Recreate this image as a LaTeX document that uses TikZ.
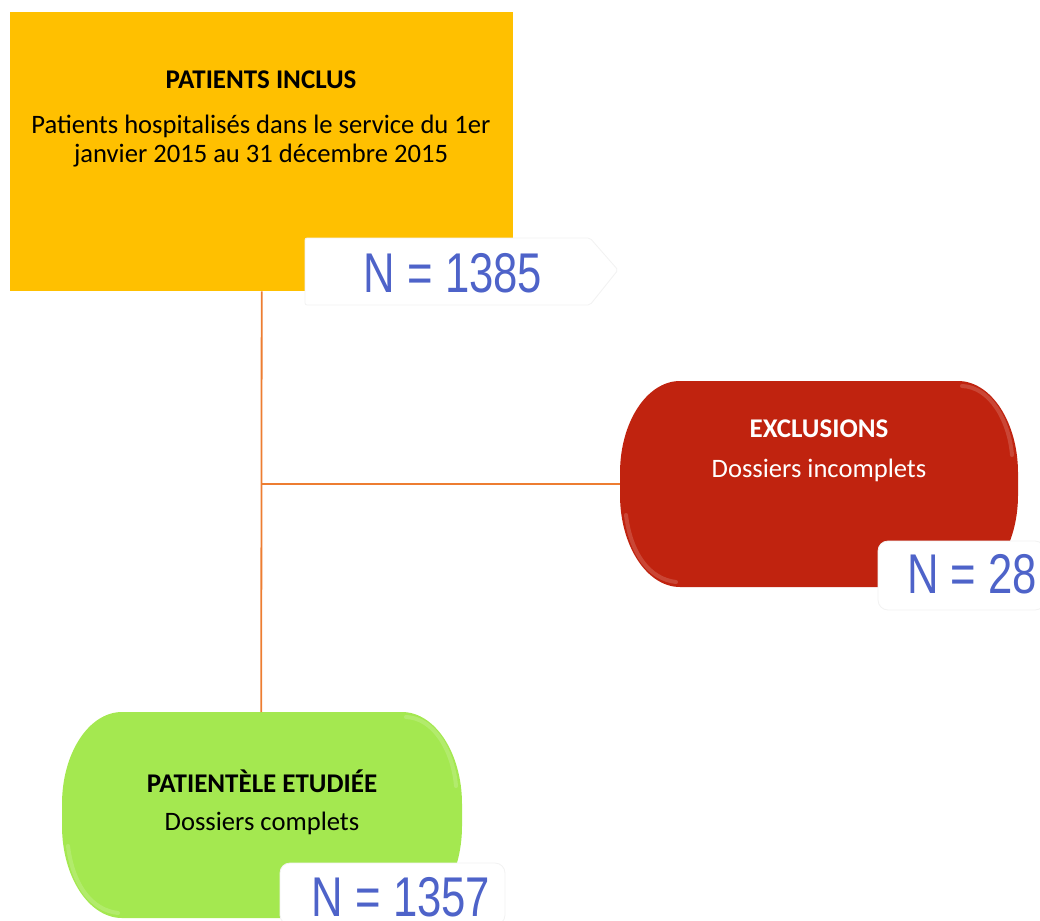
\documentclass[tikz,border=0pt]{standalone}
\usepackage{fontspec}
\setmainfont{Carlito}
\newfontfamily\numfont[FakeStretch=0.78]{Liberation Sans}
\definecolor{yel}{RGB}{255,192,0}
\definecolor{redbox}{RGB}{192,35,15}
\definecolor{greenbox}{RGB}{164,232,80}
\definecolor{lineor}{RGB}{237,125,49}
\definecolor{numblue}{RGB}{78,99,201}
\begin{document}
\begin{tikzpicture}[x=1pt,y=-1pt]
\useasboundingbox (0,0) rectangle (1040,920);
\tikzset{
  connector/.style={draw=lineor, line width=1.8pt},
  anchorbox/.style={inner sep=0, minimum width=398, minimum height=206},
  numbox/.style={fill=white, draw=black!5, line width=0.8pt},
  numtext/.style={font=\numfont\fontsize{56}{60}\selectfont, text=numblue, inner sep=0, anchor=base},
  titletext/.style={font=\bfseries\fontsize{27}{30}\selectfont, inner sep=0},
  bodytext/.style={font=\fontsize{26.6}{29}\selectfont, align=center, inner sep=0},
  glow/.style={white, opacity=0.16, line width=4pt, line cap=round}
}
% shapes (invisible anchor nodes + drawn outlines)
\node[fill=yel, minimum width=503, minimum height=279, inner sep=0, anchor=north west] (inc) at (10,12) {};
\node[anchorbox, anchor=north west] (exc) at (620,381) {};
\node[anchorbox, anchor=north west] (stud) at (62,712) {};
\fill[redbox] (680,381) -- (958,381) .. controls (991.1,381) and (1018,422.2) .. (1018,473) -- (1018,495) .. controls (1018,545.8) and (991.1,587) .. (958,587) -- (680,587) .. controls (646.9,587) and (620,545.8) .. (620,495) -- (620,473) .. controls (620,422.2) and (646.9,381) .. cycle;
\fill[greenbox] (122,712) -- (402,712) .. controls (435.1,712) and (462,753.2) .. (462,804) -- (462,826) .. controls (462,876.8) and (435.1,918) .. (402,918) -- (122,918) .. controls (88.9,918) and (62,876.8) .. (62,826) -- (62,804) .. controls (62,753.2) and (88.9,712) .. cycle;
% bevel highlights
\draw[glow] (962,386) .. controls (990,387) and (1009,420) .. (1012,455);
\draw[glow] (626,515) .. controls (631,555) and (650,579) .. (676,582);
\draw[glow] (406,717) .. controls (434,718) and (453,751) .. (456,786);
\draw[glow] (68,846) .. controls (73,886) and (92,910) .. (118,913);
% connectors
\coordinate (j) at (inc.south |- exc.west);
\draw[connector] (inc.south) -- (stud.north);
\draw[connector] (j) -- (exc.west);
% number boxes
\draw[numbox, rounded corners=2pt] (305,238) -- (590,238) -- (618,270) -- (590,305) -- (305,305) -- cycle;
\draw[numbox, rounded corners=10pt] (878,610) -- (878,541) -- (1045,541) -- (1045,610) -- cycle;
\draw[numbox, rounded corners=10pt] (280,925) -- (280,863) -- (505,863) -- (505,925) -- cycle;
% texts
\node[titletext] (t1) at (261,80) {PATIENTS INCLUS};
\node[bodytext] (b1) at (261,141) {Patients hospitalisés dans le service du 1er\\janvier 2015 au 31 décembre 2015};
\node[numtext] (n1) at (453,292) {N = 1385};
\node[titletext, text=white] (t2) at (819,429) {EXCLUSIONS};
\node[bodytext, text=white] (b2) at (819,470) {Dossiers incomplets};
\node[numtext] (n2) at (972,593) {N = 28};
\node[titletext] (t3) at (262,781) {PATIENTÈLE ETUDIÉE};
\node[bodytext] (b3) at (262,823) {Dossiers complets};
\node[numtext] (n3) at (401,916) {N = 1357};
\end{tikzpicture}
\end{document}
